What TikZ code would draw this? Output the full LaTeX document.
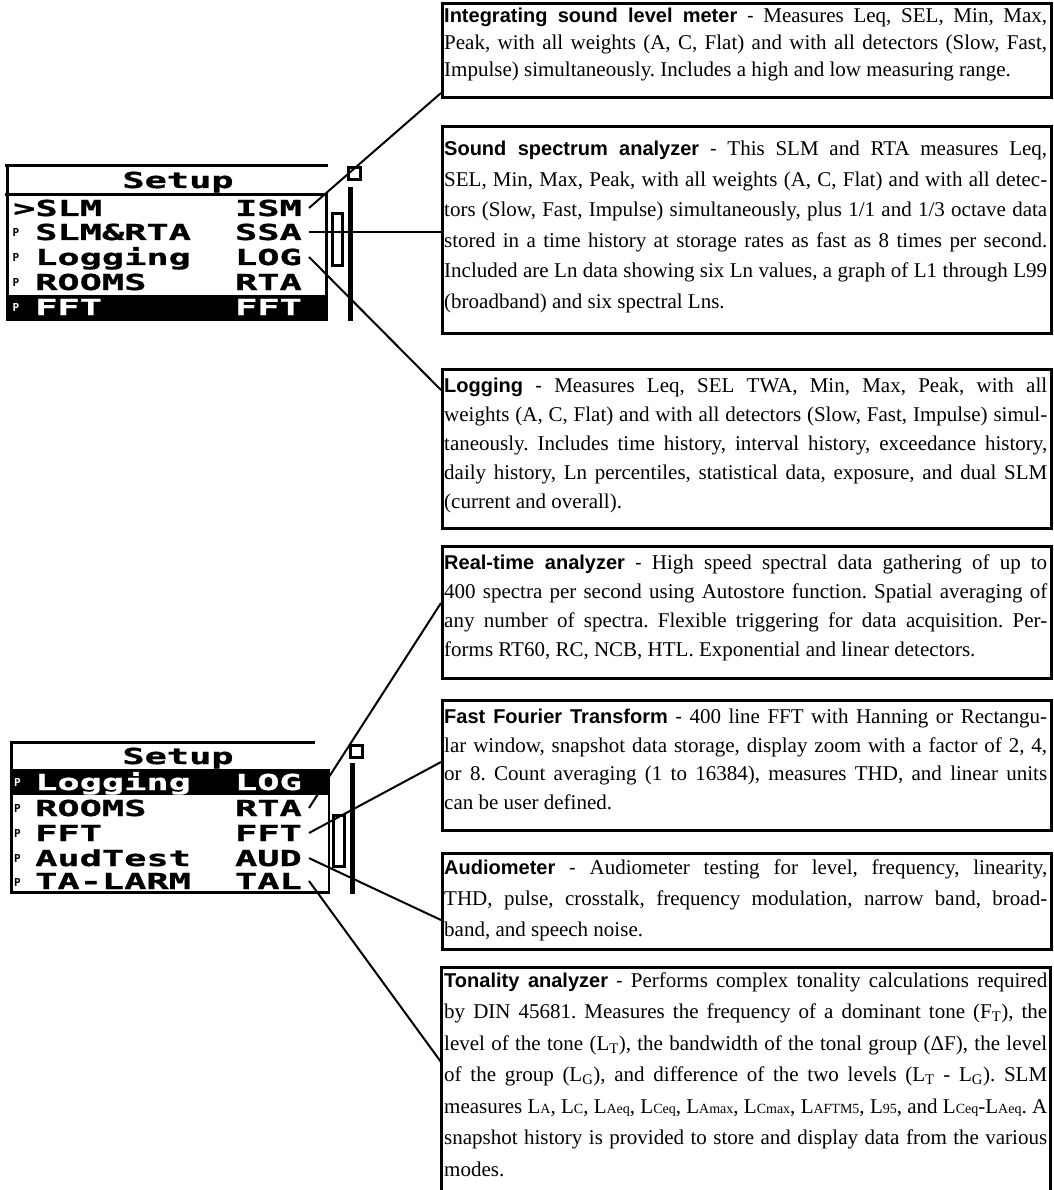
\documentclass[tikz,border=0pt]{standalone}
\usepackage{fontspec}
\setmainfont{Liberation Serif}
\newfontfamily\hdfont{Liberation Sans}
\newfontfamily\lcdfont[FakeStretch=1.68, BoldFeatures={FakeBold=1.2}]{DejaVu Sans Mono}
\newfontfamily\mkfont{DejaVu Sans Mono}
\newlength\bw \setlength\bw{603pt}
\newcommand\JL[1]{\makebox[\bw][s]{#1}}
\newcommand\ttl[1]{{\hdfont\fontsize{20}{20}\selectfont\bfseries #1}}
\newcommand\dsh{{\hdfont\fontsize{20}{20}\selectfont -}}
\newcommand\sm[1]{{\fontsize{14}{14}\selectfont #1}}
\frenchspacing
\begin{document}
\begin{tikzpicture}[x=1pt,y=-1pt,
  descbox/.style={draw, line width=3pt, minimum width=609pt, anchor=north west, inner sep=0pt},
  desctext/.style={anchor=north west, inner sep=0pt, align=left},
  lcd/.style={font=\lcdfont\bfseries\fontsize{22}{22}\selectfont, inner sep=0pt, anchor=base west},
  lcdr/.style={font=\lcdfont\bfseries\fontsize{22}{22}\selectfont, inner ysep=0pt, inner xsep=7pt, anchor=base east},
  pmark/.style={font=\mkfont\bfseries\fontsize{11}{11}\selectfont, inner sep=0pt},
  lcdline/.style={line width=3pt},
  conn/.style={line width=2pt}]
\useasboundingbox (0,0) rectangle (1053,1190);

% ---------------- LCD 1 ----------------
\fill (5.5,295) rectangle (325,321);
\draw[lcdline] (5,166) -- (328,166);
\draw[lcdline] (5,194.5) -- (327,194.5);
\draw[lcdline] (7,164.5) -- (7,321);
\draw[line width=2.5pt] (326.5,193) -- (326.5,321);
\draw[lcdline] (332,214) rectangle (342,265);
\draw[line width=5pt] (350,187) -- (350,321);
\draw[lcdline] (348,168) rectangle (360,180);
\node[lcd, anchor=base] (s1) at (178,188) {Setup};
\node[lcd] (l1a) at (13,216) {>SLM};
\node[lcdr] (l1b) at (309,216) {ISM};
\node[pmark] (m12) at (16,232) {P};
\node[lcd] (l2a) at (35,240) {SLM\&RTA};
\node[lcdr] (l2b) at (309,240) {SSA};
\node[pmark] (m13) at (16,257) {P};
\node[lcd] (l3a) at (35,265) {Logging};
\node[lcdr] (l3b) at (309,265) {LOG};
\node[pmark] (m14) at (16,282) {P};
\node[lcd] (l4a) at (35,290) {ROOMS};
\node[lcdr] (l4b) at (309,290) {RTA};
\node[pmark, text=white] (m15) at (16,307) {P};
\node[lcd, text=white] (l5a) at (35,315) {FFT};
\node[lcdr, text=white] (l5b) at (309,315) {FFT};

% ---------------- LCD 2 ----------------
\fill (10,769) rectangle (329,795);
\draw[lcdline] (10,742) -- (315,742);
\draw[lcdline] (11.5,740.5) -- (11.5,894);
\draw[line width=2.5pt] (329,769) -- (329,894);
\draw[lcdline] (333.5,815) rectangle (344,866);
\draw[line width=5pt] (352,763) -- (352,894);
\draw[lcdline] (350,745) rectangle (362,757);
\draw[lcdline] (10,892.5) -- (330,892.5);
\node[lcd, anchor=base] (s2) at (178,764) {Setup};
\node[pmark, text=white] (m21) at (17.5,782) {P};
\node[lcd, text=white] (k1a) at (35,790) {Logging};
\node[lcdr, text=white] (k1b) at (309,790) {LOG};
\node[pmark] (m22) at (17.5,808) {P};
\node[lcd] (k2a) at (35,816) {ROOMS};
\node[lcdr] (k2b) at (309,816) {RTA};
\node[pmark] (m23) at (17.5,833) {P};
\node[lcd] (k3a) at (35,841) {FFT};
\node[lcdr] (k3b) at (309,841) {FFT};
\node[pmark] (m24) at (17.5,858) {P};
\node[lcd] (k4a) at (35,866) {AudTest};
\node[lcdr] (k4b) at (309,866) {AUD};
\node[pmark] (m25) at (17.5,882) {P};
\node[lcd] (k5a) at (35,889) {TA-LARM};
\node[lcdr] (k5b) at (309,889) {TAL};

% ---------------- description boxes ----------------
\node[descbox, minimum height=94pt] (b1) at (441,2) {};
\node[desctext, font=\fontsize{21}{27}\selectfont] (t1) at (444,7.5) {%
\JL{\ttl{Integrating sound level meter} \dsh{} Measures Leq, SEL, Min, Max,}\\
\JL{Peak, with all weights (A, C, Flat) and with all detectors (Slow, Fast,}\\
Impulse) simultaneously. Includes a high and low measuring range.};

\node[descbox, minimum height=207pt] (b2) at (441,125) {};
\node[desctext, font=\fontsize{21}{30.5}\selectfont] (t2) at (444,141) {%
\JL{\ttl{Sound spectrum analyzer} \dsh{} This SLM and RTA measures Leq,}\\
\JL{SEL, Min, Max, Peak, with all weights (A, C, Flat) and with all detec-}\\
\JL{tors (Slow, Fast, Impulse) simultaneously, plus 1/1 and 1/3 octave data}\\
\JL{stored in a time history at storage rates as fast as 8 times per second.}\\
\JL{Included are Ln data showing six Ln values, a graph of L1 through L99}\\
(broadband) and six spectral Lns.};

\node[descbox, minimum height=159pt] (b3) at (441,368) {};
\node[desctext, font=\fontsize{21}{29}\selectfont] (t3) at (444,378) {%
\JL{\ttl{Logging} \dsh{} Measures Leq, SEL TWA, Min, Max, Peak, with all}\\
\JL{weights (A, C, Flat) and with all detectors (Slow, Fast, Impulse) simul-}\\
\JL{taneously. Includes time history, interval history, exceedance history,}\\
\JL{daily history, Ln percentiles, statistical data, exposure, and dual SLM}\\
(current and overall).};

\node[descbox, minimum height=132pt] (b4) at (441,545) {};
\node[desctext, font=\fontsize{21}{29}\selectfont] (t4) at (444,555) {%
\JL{\ttl{Real-time analyzer} \dsh{} High speed spectral data gathering of up to}\\
\JL{400 spectra per second using Autostore function. Spatial averaging of}\\
\JL{any number of spectra. Flexible triggering for data acquisition. Per-}\\
forms RT60, RC, NCB, HTL. Exponential and linear detectors.};

\node[descbox, minimum height=130pt] (b5) at (441,699) {};
\node[desctext, font=\fontsize{21}{28.5}\selectfont] (t5) at (444,709) {%
\JL{\ttl{Fast Fourier Transform} \dsh{} 400 line FFT with Hanning or Rectangu-}\\
\JL{lar window, snapshot data storage, display zoom with a factor of 2, 4,}\\
\JL{or 8. Count averaging (1 to 16384), measures THD, and linear units}\\
can be user defined.};

\node[descbox, minimum height=96pt] (b6) at (441,852) {};
\node[desctext, font=\fontsize{21}{31}\selectfont] (t6) at (444,860) {%
\JL{\ttl{Audiometer} \dsh{} Audiometer testing for level, frequency, linearity,}\\
\JL{THD, pulse, crosstalk, frequency modulation, narrow band, broad-}\\
band, and speech noise.};

\draw[line width=3pt] (441,1192) -- (441,967) -- (1050,967) -- (1050,1192);
\node[desctext, font=\fontsize{21}{31.5}\selectfont] (t7) at (444,972) {%
\JL{\ttl{Tonality analyzer} \dsh{} Performs complex tonality calculations required}\\
\JL{by DIN 45681. Measures the frequency of a dominant tone (F\textsubscript{T}), the}\\
\JL{level of the tone (L\textsubscript{T}), the bandwidth of the tonal group (ΔF), the level}\\
\JL{of the group (L\textsubscript{G}), and difference of the two levels (L\textsubscript{T} - L\textsubscript{G}). SLM}\\
\JL{measures L\sm{A}, L\sm{C}, L\sm{Aeq}, L\sm{Ceq}, L\sm{Amax}, L\sm{Cmax}, L\sm{AFTM5}, L\sm{95}, and L\sm{Ceq}-L\sm{Aeq}. A}\\
\JL{snapshot history is provided to store and display data from the various}\\
modes.};

% ---------------- connectors ----------------
\coordinate (cism) at (441,93);
\coordinate (cssa) at (441,232);
\coordinate (clog) at (441,390);
\coordinate (crta) at (441,603);
\coordinate (cfft) at (441,762);
\coordinate (caud) at (441,920);
\coordinate (ctal) at (441,1062);
\draw[conn] (l1b.east) -- (cism);
\draw[conn] (l2b.east) -- (l2b.east -| cssa);
\draw[conn] (l3b.east) -- (clog);
\draw[conn] (k2b.east) -- (crta);
\draw[conn] (k3b.east) -- (cfft);
\draw[conn] (k4b.east) -- (caud);
\draw[conn] (k5b.east) -- (ctal);
\end{tikzpicture}
\end{document}
